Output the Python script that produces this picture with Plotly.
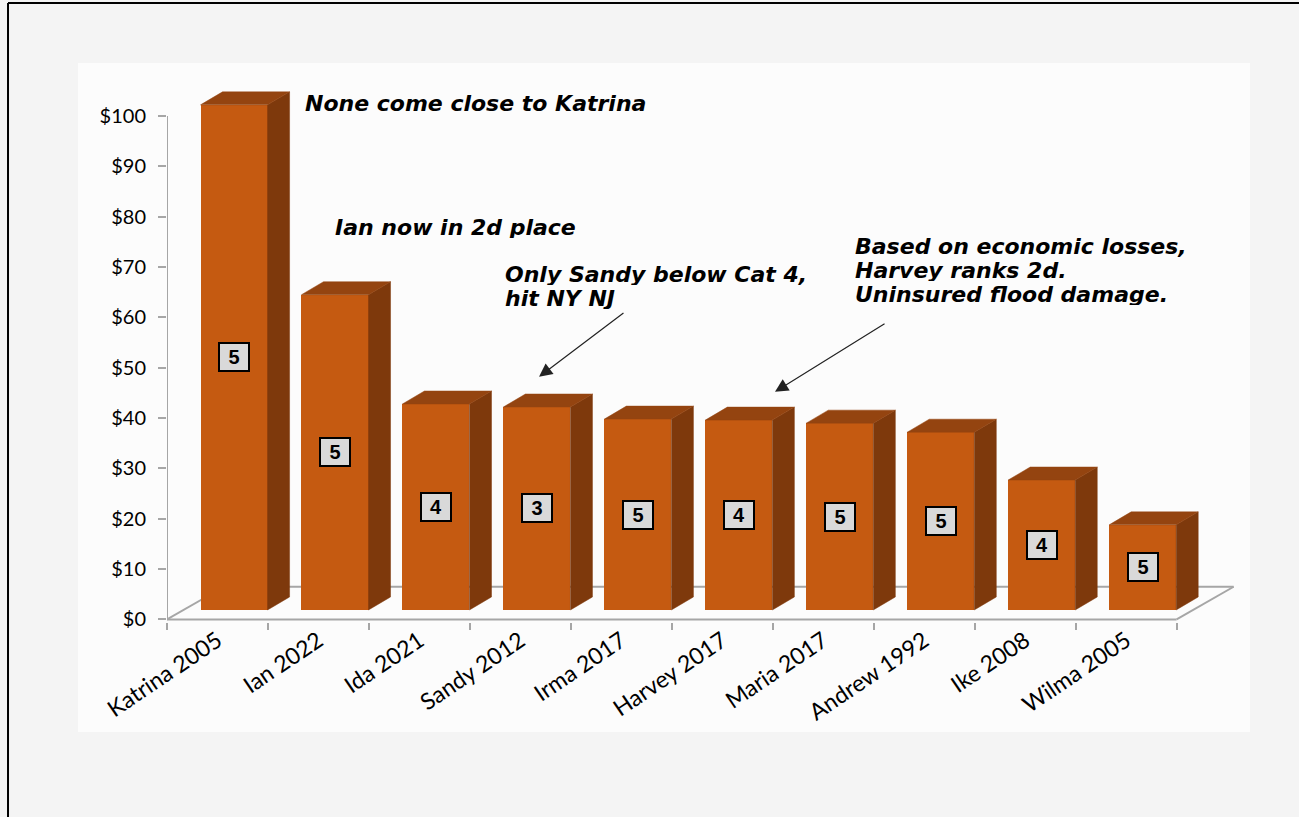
import plotly.graph_objects as go

# Costliest US hurricanes, insured losses ($ billions)
storms = ["Katrina 2005", "Ian 2022", "Ida 2021", "Sandy 2012", "Irma 2017",
          "Harvey 2017", "Maria 2017", "Andrew 1992", "Ike 2008", "Wilma 2005"]
losses = [100.3, 62.6, 40.9, 40.3, 37.9, 37.7, 37.1, 35.3, 25.8, 16.9]
category = [5, 5, 4, 3, 5, 4, 5, 5, 4, 5]

y_ticks = [0, 10, 20, 30, 40, 50, 60, 70, 80, 90, 100]
y_tick_text = ["$0", "$10", "$20", "$30", "$40", "$50", "$60", "$70", "$80", "$90", "$100"]

# Oblique "3-D" projection parameters (axis units)
FLOOR_DX, FLOOR_DY = 0.565, 6.5      # depth of the floor
BAR_W = 0.664                        # width of a column's front face
BAR_SHIFT = 0.164                    # front face sits this far back on the floor
BAR_BASE = 1.89
BAR_DX, BAR_DY = 0.218, 2.58         # depth of a column

FRONT = "#C55A11"
SIDE = "#7E390C"
TOP = "#944410"
AXIS_GREY = "#A6A6A6"

n = len(storms)
centers = [i + 0.5 + BAR_SHIFT for i in range(n)]

fig = go.Figure()

# front faces
fig.add_trace(go.Bar(
    x=centers, y=losses, base=BAR_BASE, width=BAR_W,
    marker=dict(color=FRONT, line=dict(width=0)),
    hoverinfo="skip", showlegend=False,
))

# side and top faces
side_x, side_y, top_x, top_y = [], [], [], []
for c, v in zip(centers, losses):
    xl, xr = c - BAR_W / 2, c + BAR_W / 2
    h = BAR_BASE + v
    side_x += [xr, xr + BAR_DX, xr + BAR_DX, xr, xr, None]
    side_y += [BAR_BASE, BAR_BASE + BAR_DY, h + BAR_DY, h, BAR_BASE, None]
    top_x += [xl, xl + BAR_DX, xr + BAR_DX, xr, xl, None]
    top_y += [h, h + BAR_DY, h + BAR_DY, h, h, None]

fig.add_trace(go.Scatter(x=side_x, y=side_y, mode="lines", fill="toself",
                         fillcolor=SIDE, line=dict(color=SIDE, width=0.5),
                         hoverinfo="skip", showlegend=False))
fig.add_trace(go.Scatter(x=top_x, y=top_y, mode="lines", fill="toself",
                         fillcolor=TOP, line=dict(color=TOP, width=0.5),
                         hoverinfo="skip", showlegend=False))

shapes = []
# page background bands and frame
shapes.append(dict(type="rect", xref="paper", yref="paper",
                   x0=-0.0822, x1=1.0, y0=-0.1968, y1=1.0,
                   fillcolor="#FCFCFC", line=dict(width=0), layer="below"))
shapes.append(dict(type="line", xref="paper", yref="paper",
                   x0=-0.1468, x1=1.2, y0=1.1073, y1=1.1073,
                   line=dict(color="black", width=2)))
shapes.append(dict(type="line", xref="paper", yref="paper",
                   x0=-0.1468, x1=-0.1468, y0=-0.4, y1=1.1073,
                   line=dict(color="black", width=2)))

# floor outline
floor = [((0, 0), (n, 0)), ((n, 0), (n + FLOOR_DX, FLOOR_DY)),
         ((FLOOR_DX, FLOOR_DY), (n + FLOOR_DX, FLOOR_DY)), ((0, 0), (FLOOR_DX, FLOOR_DY))]
for (x0, y0), (x1, y1) in floor:
    shapes.append(dict(type="line", xref="x", yref="y", x0=x0, y0=y0, x1=x1, y1=y1,
                       line=dict(color=AXIS_GREY, width=2), layer="below"))
# vertical axis line
shapes.append(dict(type="line", xref="x", yref="y", x0=0, y0=0, x1=0, y1=100,
                   line=dict(color=AXIS_GREY, width=2), layer="below"))

annotations = []
# hurricane category boxes
for c, v, cat in zip(centers, losses, category):
    annotations.append(dict(
        x=c, y=BAR_BASE + v / 2, xref="x", yref="y", text=str(cat), showarrow=False,
        font=dict(family="Liberation Sans", size=20, color="black", weight="bold"),
        bgcolor="#D9D9D9", bordercolor="black", borderwidth=2, width=26, height=24,
    ))

note_font = dict(family="DejaVu Sans", size=22, color="black", weight="bold", style="italic")
notes = [
    (1.347, 102.6, "None come close to Katrina"),
    (1.644, 77.9, "Ian now in 2d place"),
    (3.328, 68.62, "Only Sandy below Cat 4,"),
    (3.328, 63.85, "hit NY NJ"),
    (6.795, 74.18, "Based on economic losses,"),
    (6.795, 69.41, "Harvey ranks 2d."),
    (6.795, 64.65, "Uninsured flood damage."),
]
for x, y, t in notes:
    annotations.append(dict(x=x, y=y, xref="x", yref="y", text=t, showarrow=False,
                            xanchor="left", yanchor="middle", height=22, font=note_font))

# pointer arrows
for (hx, hy), (tx, ty) in [((3.685, 48.2), (4.536, 61.1)), ((6.022, 45.2), (7.122, 58.9))]:
    annotations.append(dict(x=hx, y=hy, ax=tx, ay=ty, xref="x", yref="y",
                            axref="x", ayref="y", text="", showarrow=True,
                            arrowhead=2, arrowsize=2.2, arrowwidth=1.2, arrowcolor="#222222"))

fig.update_layout(
    width=1299, height=817,
    margin=dict(l=167, r=49, t=63, b=195),
    paper_bgcolor="#F4F4F4", plot_bgcolor="rgba(0,0,0,0)",
    shapes=shapes, annotations=annotations,
    bargap=0, showlegend=False,
    xaxis=dict(range=[0, 10.727], showgrid=False, zeroline=False, showline=False,
               tickmode="array", tickvals=[i + 0.5 for i in range(n)], ticktext=storms,
               ticks="", tickangle=-34,
               tickfont=dict(family="Lato", size=23, color="black"),
               minor=dict(tickmode="linear", tick0=0, dtick=1, ticks="outside",
                          ticklen=7, tickwidth=2, tickcolor=AXIS_GREY, showgrid=False),
               fixedrange=True),
    yaxis=dict(range=[-0.5, 110.5], showgrid=False, zeroline=False, showline=False,
               tickmode="array", tickvals=y_ticks, ticktext=y_tick_text,
               ticks="outside", ticklen=8, tickwidth=2, tickcolor=AXIS_GREY,
               ticklabelstandoff=8,
               tickfont=dict(family="Lato", size=20, color="black"),
               fixedrange=True),
)

fig.write_html("out.html")
